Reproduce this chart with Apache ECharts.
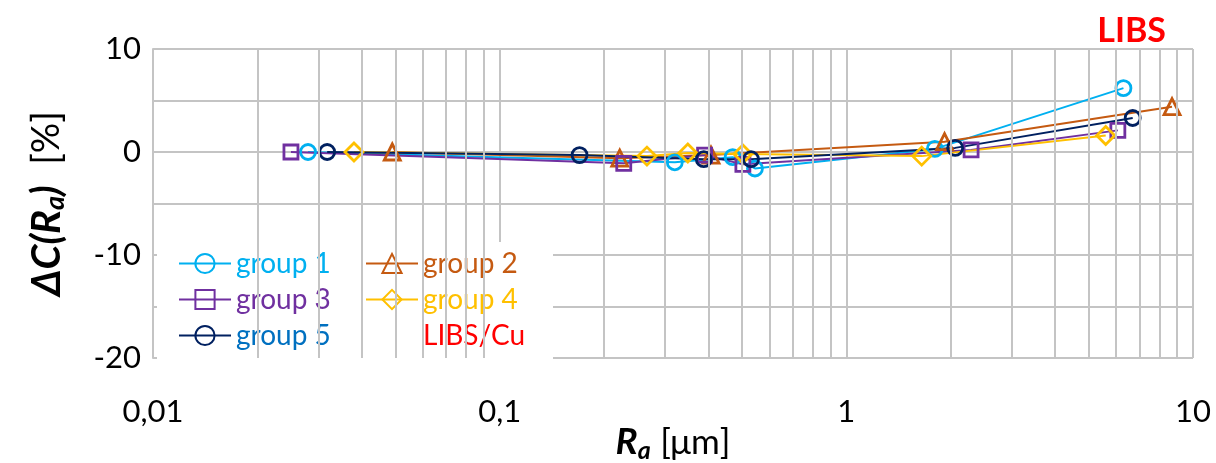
<!DOCTYPE html>
<html>
<head>
<meta charset="utf-8">
<script src="https://cdn.jsdelivr.net/npm/echarts@6/dist/echarts.min.js"></script>
<style>
  html, body { margin: 0; padding: 0; background: #fff; }
  #main { width: 1216px; height: 463px; }
</style>
</head>
<body>
<div id="main"></div>
<script>
// Ra [um] vs deltaC [%]
const g1X = [0.028, 0.32, 0.47, 0.545, 1.8, 6.3]
const g1Y = [0, -1.0, -0.5, -1.6, 0.3, 6.2]
const g2X = [0.049, 0.222, 0.407, 1.92, 8.7]
const g2Y = [0, -0.6, -0.3, 1.0, 4.4]
const g3X = [0.025, 0.228, 0.39, 0.503, 2.29, 6.07]
const g3Y = [0, -1.1, -0.3, -1.2, 0.2, 2.1]
const g4X = [0.038, 0.266, 0.349, 0.503, 1.65, 5.6]
const g4Y = [0, -0.4, -0.1, -0.2, -0.4, 1.6]
const g5X = [0.0318, 0.17, 0.388, 0.531, 2.06, 6.7]
const g5Y = [0, -0.3, -0.7, -0.7, 0.4, 3.3]

const xTicks = [0.01, 0.1, 1, 10]
const yTicks = [10, 0, -10, -20]
const minorX = [0.02, 0.03, 0.04, 0.05, 0.06, 0.07, 0.08, 0.09,
  0.2, 0.3, 0.4, 0.5, 0.6, 0.7, 0.8, 0.9,
  2, 3, 4, 5, 6, 7, 8, 9]

const FONT = 'Lato, "Open Sans", sans-serif'
const GRID = '#C4C4C4'

const zip = (xs, ys) => xs.map((x, i) => [x, ys[i]])

const group = (name, xs, ys, color, symbol, size) => ({
  name,
  type: 'line',
  data: zip(xs, ys),
  symbol,
  symbolSize: size,
  lineStyle: { color, width: 2 },
  itemStyle: { color: 'rgba(255,255,255,0)', borderColor: color, borderWidth: 2.8 },
  z: 3,
  animation: false
})

const legendText = (name, color) => ({ name, textStyle: { color } })

const legendBase = {
  orient: 'vertical',
  top: 242,
  itemWidth: 52,
  itemHeight: 24,
  itemGap: 5,
  backgroundColor: '#fff',
  textStyle: { fontFamily: FONT, fontSize: 28, lineHeight: 31 },
  selectedMode: false
}

const option = {
  backgroundColor: '#fff',
  animation: false,
  grid: { left: 153, top: 49, right: 23, bottom: 105, containLabel: false, outerBoundsMode: 'none' },
  title: {
    text: 'LIBS',
    right: 45,
    top: 9,
    textStyle: { color: '#FF0000', fontFamily: FONT, fontWeight: 'bold', fontSize: 34 }
  },
  legend: [
    Object.assign({}, legendBase, {
      left: 157,
      padding: [6, 25, 8, 21],
      data: [
        legendText('group 1', '#00B0F0'),
        legendText('group 3', '#7030A0'),
        legendText('group 5', '#0070C0')
      ]
    }),
    Object.assign({}, legendBase, {
      left: 352,
      padding: [6, 28, 8, 13],
      data: [
        legendText('group 2', '#C55A11'),
        legendText('group 4', '#FFC000'),
        { name: 'LIBS/Cu', icon: 'none', textStyle: { color: '#FF0000' } }
      ]
    })
  ],
  xAxis: {
    type: 'log',
    logBase: 10,
    min: xTicks[0],
    max: xTicks[xTicks.length - 1],
    name: '{b|R}{s|a} {n|[\u03bcm]}',
    nameLocation: 'middle',
    nameGap: 64,
    nameMoveOverlap: false,
    nameTextStyle: {
      fontFamily: FONT,
      fontSize: 37,
      color: '#000',
      rich: {
        b: { fontFamily: FONT, fontSize: 37, fontWeight: 'bold', fontStyle: 'italic', color: '#000' },
        s: { fontFamily: FONT, fontSize: 25, fontWeight: 'bold', fontStyle: 'italic', color: '#000', padding: [16, 0, 0, 0] },
        n: { fontFamily: FONT, fontSize: 35, color: '#000' }
      }
    },
    axisLine: { show: true, lineStyle: { color: GRID, width: 2 } },
    axisTick: { show: false },
    axisLabel: {
      margin: 38,
      fontFamily: FONT,
      fontSize: 31,
      color: '#000',
      formatter: v => String(v).replace('.', ',')
    },
    splitLine: { show: true, lineStyle: { color: GRID, width: 2 } }
  },
  yAxis: {
    type: 'value',
    min: yTicks[yTicks.length - 1],
    max: yTicks[0],
    interval: 5,
    name: '{b|\u0394C(R}{s|a}{b|)}  {n|[%]}',
    nameLocation: 'middle',
    nameRotate: 90,
    nameGap: 84,
    nameMoveOverlap: false,
    nameTextStyle: {
      fontFamily: FONT,
      fontSize: 40,
      color: '#000',
      rich: {
        b: { fontFamily: FONT, fontSize: 40, fontWeight: 'bold', fontStyle: 'italic', color: '#000' },
        s: { fontFamily: FONT, fontSize: 27, fontWeight: 'bold', fontStyle: 'italic', color: '#000', padding: [17, 0, 0, 0] },
        n: { fontFamily: FONT, fontSize: 38, color: '#000' }
      }
    },
    axisLine: { show: true, lineStyle: { color: GRID, width: 2 } },
    axisTick: { show: false },
    axisLabel: {
      margin: 12,
      fontFamily: FONT,
      fontSize: 31,
      color: '#000',
      formatter: v => (yTicks.indexOf(v) >= 0 ? String(v) : '')
    },
    splitLine: { show: true, lineStyle: { color: GRID, width: 2 } }
  },
  series: [
    {
      // minor vertical gridlines of the log axis
      name: 'minor',
      type: 'line',
      data: [],
      z: 1,
      silent: true,
      markLine: {
        silent: true,
        symbol: ['none', 'none'],
        label: { show: false },
        lineStyle: { color: GRID, width: 2, type: 'solid' },
        emphasis: { disabled: true },
        data: minorX.map(v => ({ xAxis: v }))
      }
    },
    group('group 1', g1X, g1Y, '#00B0F0', 'circle', 15),
    group('group 2', g2X, g2Y, '#C55A11', 'triangle', 16),
    group('group 3', g3X, g3Y, '#7030A0', 'rect', 14),
    group('group 4', g4X, g4Y, '#FFC000', 'diamond', 18),
    group('group 5', g5X, g5Y, '#002060', 'circle', 15),
    { name: 'LIBS/Cu', type: 'line', data: [], lineStyle: { color: '#FF0000' } }
  ]
}

const chart = echarts.init(document.getElementById('main'), null, { renderer: 'canvas' })
chart.setOption(option)
</script>
</body>
</html>
